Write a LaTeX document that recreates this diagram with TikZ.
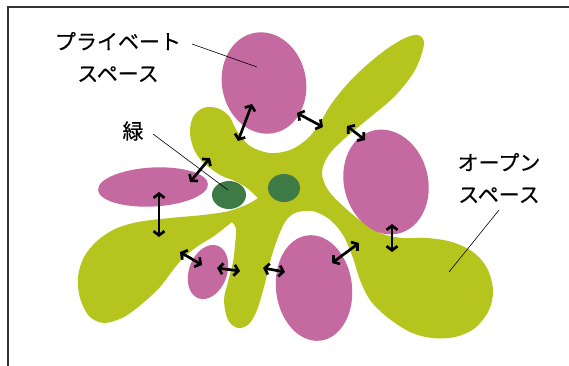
\documentclass[tikz,border=0pt]{standalone}
\usepackage{fontspec}
\newfontfamily\jpfont[FakeBold=0.4]{Noto Sans CJK JP}
\usetikzlibrary{arrows.meta}
\definecolor{pinkc}{RGB}{196,106,160}
\definecolor{limec}{RGB}{182,197,30}
\definecolor{dgreen}{RGB}{62,122,70}
\begin{document}
\begin{tikzpicture}[x=1bp,y=-1bp,
  link/.style={{Straight Barb[length=4.2bp,width=11bp]}-{Straight Barb[length=4.2bp,width=11bp]}, line width=2.7bp, black},
  leader/.style={black, line width=0.6bp},
  lbl/.style={font=\jpfont\fontsize{21bp}{32bp}\selectfont, align=center, inner sep=0pt},
  frameline/.style={line width=2bp, black!80},
  blob/.style={fill=limec},
  pinkblob/.style={fill=pinkc},
  dot/.style={fill=dgreen}]

\useasboundingbox (0,0) rectangle (569,365);
\fill[white] (0,0) rectangle (569,365);

% green open space
\path[blob] plot[smooth, tension=0.55] coordinates {
 (258,198) (247,188) (235,181) (222,176) (210,168) (200,159) (193,147) (190,132)
 (193,117) (203,108) (217,108) (229,116) (237,131) (250,146) (270,153) (290,150)
 (306,140) (318,126) (332,103) (353,78) (380,54) (403,39) (418,35) (424,44)
 (415,70) (395,96) (368,119) (344,139) (328,156) (322,173) (328,190) (343,206)
 (361,221) (380,233) (402,238) (427,238) (452,242) (473,252) (487,268) (493,290) (489,310)
 (475,328) (455,337) (432,338) (410,332) (387,317) (370,300) (360,280) (353,258)
 (343,235) (329,219) (312,211) (295,213) (285,222) (277,240) (270,262) (264,287)
 (257,310) (249,324) (238,328) (228,320) (224,300) (228,282) (233,262) (235,245) (236,229) (232,222)}
 -- plot[smooth, tension=0.55] coordinates {
 (232,222) (214,236) (198,246) (184,257) (173,270) (160,287) (143,303) (124,317)
 (104,323) (89,316) (80,298) (78,277) (84,257) (97,241) (115,229) (138,222)
 (170,218) (203,215) (229,211) (248,204) (258,198)} -- cycle;

% private spaces
\begin{scope}[shift={(264,83)},rotate=11]
 \path[pinkblob] (0,0) ellipse [x radius=42, y radius=51];
\end{scope}
\begin{scope}[shift={(153,187)},rotate=3]
 \path[pinkblob] (0,0) ellipse [x radius=55, y radius=19.5];
\end{scope}
\begin{scope}[shift={(386,182)},rotate=14]
 \path[pinkblob] (0,0) ellipse [x radius=42, y radius=53];
\end{scope}
\begin{scope}[shift={(314,288)},rotate=7]
 \path[pinkblob] (0,0) ellipse [x radius=38, y radius=53];
\end{scope}
\begin{scope}[shift={(208,272)},rotate=-20]
 \path[pinkblob] (0,0) ellipse [x radius=19, y radius=28];
\end{scope}

% greenery
\path[dot] (229,195) ellipse [x radius=17, y radius=14];
\path[dot] (284,188) ellipse [x radius=16, y radius=14];

% arrow end points
\coordinate (a1s) at (252,104); \coordinate (a1e) at (238,141);
\coordinate (a2s) at (297,113); \coordinate (a2e) at (323,127);
\coordinate (a3s) at (347,126); \coordinate (a3e) at (365,140);
\coordinate (a4s) at (210,158); \coordinate (a4e) at (190,182);
\coordinate (a5s) at (159,192); \coordinate (a5e) at (159,237);
\coordinate (a6s) at (180,252); \coordinate (a6e) at (202,265);
\coordinate (a7s) at (217,268); \coordinate (a7e) at (240,271);
\coordinate (a8s) at (263,268); \coordinate (a8e) at (285,272);
\coordinate (a9s) at (332,263); \coordinate (a9e) at (359,243);
\coordinate (a10s) at (392,224); \coordinate (a10e) at (392,252);
\foreach \i in {1,...,10} {\draw[link] (a\i s) -- (a\i e);}

% labels
\node[lbl] (lpriv) at (118,57) {プライベート\\スペース};
\node[lbl] (lgreen) at (133,131) {緑};
\node[lbl] (lopen) at (499,178) {オープン\\スペース};

\coordinate (p1) at (192,44); \coordinate (p2) at (257,67);
\coordinate (g1) at (153,134); \coordinate (g2) at (228,190);
\coordinate (o1) at (499,210); \coordinate (o2) at (449,272);
\draw[leader] (p1) -- (p2);
\draw[leader] (g1) -- (g2);
\draw[leader] (o1) -- (o2);

% frame
\coordinate (f1) at (8,366); \coordinate (f2) at (8,7); \coordinate (f3) at (570,7);
\draw[frameline] (f1) -- (f2) -- (f3);
\end{tikzpicture}
\end{document}
